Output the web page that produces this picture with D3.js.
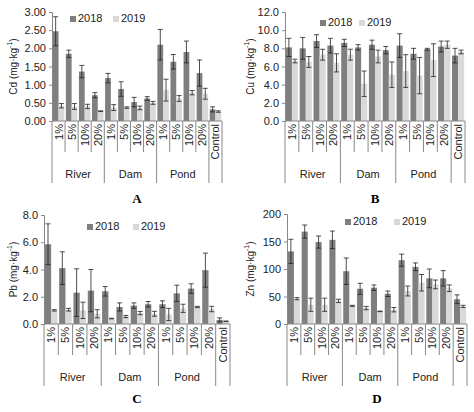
<!DOCTYPE html>
<html><head><meta charset="utf-8">
<script src="https://cdn.jsdelivr.net/npm/d3@7"></script>
<style>body{margin:0;background:#fff}</style>
</head><body>
<script>
const categories = ["1%","5%","10%","20%","1%","5%","10%","20%","1%","5%","10%","20%","Control"];
const groups = [["River",0,4],["Dam",4,8],["Pond",8,12],["",12,13]];
const years = ["2018","2019"];

const cd2018 = [2.47,1.85,1.36,0.71,1.18,0.88,0.52,0.62,2.10,1.63,1.90,1.32,0.32];
const cd2018err = [0.40,0.10,0.17,0.07,0.13,0.20,0.13,0.05,0.42,0.20,0.30,0.36,0.07];
const cd2019 = [0.42,0.40,0.40,0.27,0.37,0.37,0.36,0.50,0.85,0.62,0.78,0.75,0.26];
const cd2019err = [0.06,0.08,0.06,0.01,0.08,0.02,0.05,0.04,0.30,0.08,0.06,0.15,0.02];

const cu2018 = [8.1,8.0,8.8,8.3,8.6,8.1,8.4,7.8,8.3,7.4,7.9,8.2,7.2];
const cu2018err = [1.0,1.2,0.7,0.8,0.4,0.3,0.5,0.4,1.3,0.6,0.1,0.6,0.8];
const cu2019 = [6.6,6.5,7.3,6.4,7.3,4.1,7.1,5.1,5.5,5.0,6.7,8.4,7.6];
const cu2019err = [0.2,0.6,0.6,1.0,0.6,1.4,0.7,1.4,1.8,2.0,1.8,0.4,0.2];

const pb2018 = [5.85,4.1,2.3,2.45,2.4,1.25,1.35,1.45,1.45,2.25,2.6,3.95,0.3];
const pb2018err = [1.5,1.2,1.75,1.55,0.35,0.3,0.2,0.2,0.25,0.6,0.35,1.25,0.15];
const pb2019 = [1.0,1.05,1.0,0.75,0.4,0.55,0.8,0.75,0.7,1.15,1.25,1.1,0.2];
const pb2019err = [0.05,0.1,0.6,0.3,0.02,0.08,0.12,0.18,0.45,0.3,0.05,0.2,0.02];

const zn2018 = [132,168,149,153,96,64,66,55,116,104,83,83,45];
const zn2018err = [22,12,11,16,24,10,5,5,11,7,17,14,8];
const zn2019 = [46,35,35,42,33,29,23,26,60,75,72,65,32];
const zn2019err = [2,12,12,3,1,3,0.5,4,9,15,8,6,2];

const cdTicks = [0,0.5,1,1.5,2,2.5,3];
const cuTicks = [0,2,4,6,8,10,12];
const pbTicks = [0,2,4,6,8];
const znTicks = [0,50,100,150,200];

const svg = d3.select("body").append("svg").attr("width",474).attr("height",412)
  .style("font-family","Liberation Sans, Arial, sans-serif");
const colors = ["#7f7f7f","#d9d9d9"];

function panel(o) {
  const g = svg.append("g");
  const x = d3.scaleBand().domain(d3.range(categories.length)).range([o.x0,o.x1]).paddingInner(0.12).paddingOuter(0.06);
  const xs = d3.scaleBand().domain([0,1]).range([0,x.bandwidth()]);
  const step = (o.x1-o.x0)/categories.length;
  const y = d3.scaleLinear().domain([0,o.max]).range([o.base,o.top]);
  const series = [[o.a,o.ae],[o.b,o.be]];
  series.forEach(([v,e],s) => {
    g.selectAll(null).data(v).join("rect")
      .attr("x",(d,i)=>x(i)+xs(s)).attr("width",xs.bandwidth())
      .attr("y",d=>y(d)).attr("height",d=>o.base-y(d)).attr("fill",colors[s]);
    const c = (i)=>x(i)+xs(s)+xs.bandwidth()/2;
    g.selectAll(null).data(v).join("path")
      .attr("d",(d,i)=>`M${c(i)},${y(d-e[i])}V${y(d+e[i])}M${c(i)-2.5},${y(d-e[i])}h5M${c(i)-2.5},${y(d+e[i])}h5`)
      .attr("stroke","#222").attr("stroke-width",0.8).attr("fill","none");
  });
  const ax = g.append("g").attr("transform",`translate(${o.x0},0)`)
    .call(d3.axisLeft(y).tickValues(o.ticks).tickSize(3).tickFormat(d3.format(o.fmt)));
  ax.select(".domain").attr("stroke","#888");
  ax.selectAll(".tick line").attr("stroke","#888");
  ax.selectAll("text").attr("font-size",11).attr("fill","#222");
  g.append("line").attr("x1",o.x0).attr("x2",o.x1).attr("y1",o.base).attr("y2",o.base).attr("stroke","#888");
  // category separators
  const gl = o.base + 62;
  for (let k=0;k<=categories.length;k++) {
    const isG = [0,4,8,12,13].includes(k);
    g.append("line").attr("x1",o.x0+k*step).attr("x2",o.x0+k*step)
      .attr("y1",o.base).attr("y2",isG?gl:o.base+31).attr("stroke","#888");
  }
  categories.forEach((c,i) => {
    g.append("text").attr("transform",`translate(${o.x0+(i+0.5)*step+4},${o.base+3}) rotate(-90)`)
      .attr("text-anchor","end").attr("font-size",11).attr("fill","#222").text(c);
  });
  groups.forEach(([n,a,b]) => {
    g.append("text").attr("x",o.x0+(a+b)/2*step).attr("y",o.base+57).attr("text-anchor","middle")
      .attr("font-size",11).attr("fill","#222").text(n);
  });
  const yl = g.append("text").attr("transform",`translate(${o.ylx},${(o.top+o.base)/2}) rotate(-90)`)
    .attr("text-anchor","middle").attr("dominant-baseline","central").attr("font-size",10).attr("fill","#222");
  yl.append("tspan").text(o.label+" (mg·kg");
  yl.append("tspan").attr("dy",-4).attr("font-size",7).text("-1");
  yl.append("tspan").attr("dy",4).text(")");
  // legend
  years.forEach((yr,s) => {
    const lx = o.lx + s*o.lgap;
    g.append("rect").attr("x",lx).attr("y",o.ly-6).attr("width",6).attr("height",6).attr("fill",colors[s]);
    g.append("text").attr("x",lx+8).attr("y",o.ly).attr("font-size",11).attr("fill","#222").text(yr);
  });
  g.append("text").attr("x",(o.x0+o.x1)/2).attr("y",o.letterY).attr("text-anchor","middle")
    .attr("font-family","Liberation Serif, serif").attr("font-weight","bold").attr("font-size",13).text(o.letter);
}

panel({x0:52,x1:222,top:12,base:121,max:3,ticks:cdTicks,fmt:".2f",a:cd2018,ae:cd2018err,b:cd2019,be:cd2019err,
  label:"Cd",ylx:13,lx:70,ly:22,lgap:43,letter:"A",letterY:203});
panel({x0:285,x1:465,top:12,base:121,max:12,ticks:cuTicks,fmt:".1f",a:cu2018,ae:cu2018err,b:cu2019,be:cu2019err,
  label:"Cu",ylx:250,lx:320,ly:26,lgap:39,letter:"B",letterY:203});
panel({x0:44,x1:230,top:215,base:324,max:8,ticks:pbTicks,fmt:".1f",a:pb2018,ae:pb2018err,b:pb2019,be:pb2019err,
  label:"Pb",ylx:13,lx:87,ly:230,lgap:46,letter:"C",letterY:403});
panel({x0:287,x1:467,top:214,base:324,max:200,ticks:znTicks,fmt:"d",a:zn2018,ae:zn2018err,b:zn2019,be:zn2019err,
  label:"Zn",ylx:250,lx:345,ly:225,lgap:49,letter:"D",letterY:403});
</script>
</body></html>
